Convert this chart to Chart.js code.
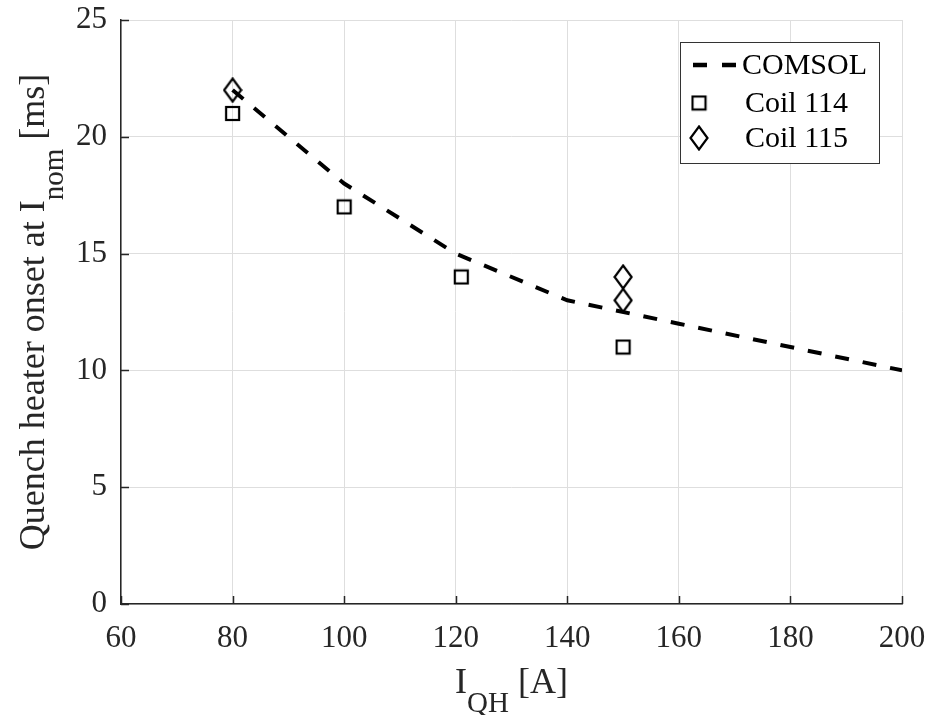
<!DOCTYPE html>
<html>
<head>
<meta charset="utf-8">
<script src="https://cdn.jsdelivr.net/npm/chart.js@4"></script>
<style>
  html, body { margin: 0; padding: 0; background: #fff; }
  #wrap { width: 940px; height: 715px; }
</style>
</head>
<body>
<div id="wrap"><canvas id="grafico" width="940" height="715"></canvas></div>
<script>
// data
const comsolX = [80, 100, 120, 140, 160, 180, 200];
const comsolY = [22, 18, 15, 13, 12, 11, 10];
const coil114X = [80, 100, 121, 150];
const coil114Y = [21, 17, 14, 11];
const coil115X = [80, 150, 150];
const coil115Y = [22, 14, 13];
const xTicks = [60, 80, 100, 120, 140, 160, 180, 200];
const yTicks = [0, 5, 10, 15, 20, 25];
const seriesNames = ['COMSOL', 'Coil 114', 'Coil 115'];

const FONT = "'Liberation Serif', 'Times New Roman', serif";
const AXIS = '#262626';

Chart.defaults.font.family = FONT;
Chart.defaults.color = AXIS;

// markers
function squareMarker() {
    const c = document.createElement('canvas');
    c.width = 17; c.height = 17;
    const g = c.getContext('2d');
    g.strokeStyle = '#000';
    g.lineWidth = 2.2;
    g.strokeRect(2, 2, 13, 13);
    return c;
}
function diamondMarker() {
    const c = document.createElement('canvas');
    c.width = 20; c.height = 26;
    const g = c.getContext('2d');
    g.strokeStyle = '#000';
    g.lineWidth = 2.2;
    g.beginPath();
    g.moveTo(10, 1.5);
    g.lineTo(18.5, 13);
    g.lineTo(10, 24.5);
    g.lineTo(1.5, 13);
    g.closePath();
    g.stroke();
    return c;
}
const sq = squareMarker();
const dm = diamondMarker();

const toPts = (xs, ys) => xs.map((x, i) => ({ x: x, y: ys[i] }));

// text with a subscript part
function subText(ctx, main, sub, tail, size, subSize, drop) {
    ctx.font = size + 'px ' + FONT;
    const w1 = ctx.measureText(main).width;
    const w3 = ctx.measureText(tail).width;
    ctx.font = subSize + 'px ' + FONT;
    const w2 = ctx.measureText(sub).width;
    const total = w1 + w2 + w3;
    let x = -total / 2;
    ctx.textAlign = 'left';
    ctx.textBaseline = 'alphabetic';
    ctx.font = size + 'px ' + FONT;
    ctx.fillText(main, x, 0);
    x += w1;
    ctx.font = subSize + 'px ' + FONT;
    ctx.fillText(sub, x, drop);
    x += w2;
    ctx.font = size + 'px ' + FONT;
    ctx.fillText(tail, x, 0);
}

const extras = {
    id: 'extras',
    afterDraw(chart) {
        const ctx = chart.ctx;
        const a = chart.chartArea;
        const xs = chart.scales.x, ys = chart.scales.y;

        // inward tick marks
        ctx.save();
        ctx.strokeStyle = AXIS;
        ctx.lineWidth = 1.5;
        ctx.beginPath();
        xTicks.forEach(v => {
            const px = Math.round(xs.getPixelForValue(v)) + 0.5;
            ctx.moveTo(px, a.bottom);
            ctx.lineTo(px, a.bottom - 8);
        });
        yTicks.forEach(v => {
            const py = Math.round(ys.getPixelForValue(v)) + 0.5;
            ctx.moveTo(a.left, py);
            ctx.lineTo(a.left + 8, py);
        });
        ctx.stroke();
        ctx.restore();

        // axis titles
        ctx.save();
        ctx.fillStyle = AXIS;
        ctx.translate((a.left + a.right) / 2, 693);
        subText(ctx, 'I', 'QH', ' [A]', 36, 29, 19);
        ctx.restore();

        ctx.save();
        ctx.fillStyle = AXIS;
        ctx.translate(44, (a.top + a.bottom) / 2);
        ctx.rotate(-Math.PI / 2);
        subText(ctx, 'Quench heater onset at I', 'nom', ' [ms]', 36, 29, 19);
        ctx.restore();

        // legend box
        const bx = 680, by = 42, bw = 199, bh = 121;
        ctx.save();
        ctx.fillStyle = '#fff';
        ctx.fillRect(bx, by, bw, bh);
        ctx.strokeStyle = '#333';
        ctx.lineWidth = 1;
        ctx.strokeRect(bx + 0.5, by + 0.5, bw, bh);

        const rows = [65, 103, 138];
        ctx.strokeStyle = '#000';
        ctx.lineWidth = 4.5;
        ctx.setLineDash([14, 15]);
        ctx.beginPath();
        ctx.moveTo(693, rows[0]);
        ctx.lineTo(737, rows[0]);
        ctx.stroke();
        ctx.setLineDash([]);
        ctx.drawImage(sq, 699 - sq.width / 2, rows[1] - sq.height / 2);
        ctx.drawImage(dm, 699 - dm.width / 2, rows[2] - dm.height / 2);

        ctx.fillStyle = '#000';
        ctx.font = '30px ' + FONT;
        ctx.textAlign = 'left';
        ctx.textBaseline = 'middle';
        ctx.fillText(seriesNames[0], 742, rows[0] + 1);
        ctx.fillText(seriesNames[1], 745, rows[1] + 1);
        ctx.fillText(seriesNames[2], 745, rows[2] + 1);
        ctx.restore();
    }
};

new Chart(document.getElementById('grafico').getContext('2d'), {
    type: 'scatter',
    data: {
        datasets: [
            {
                label: seriesNames[0],
                data: toPts(comsolX, comsolY),
                showLine: true,
                borderColor: '#000',
                borderWidth: 4,
                borderDash: [14, 14],
                borderCapStyle: 'butt',
                pointRadius: 0,
                fill: false,
                order: 0
            },
            {
                label: seriesNames[1],
                data: toPts(coil114X, coil114Y),
                pointStyle: sq,
                pointRadius: 8,
                order: 1
            },
            {
                label: seriesNames[2],
                data: toPts(coil115X, coil115Y),
                pointStyle: dm,
                pointRadius: 10,
                order: 1
            }
        ]
    },
    options: {
        responsive: false,
        animation: false,
        devicePixelRatio: 1,
        layout: { padding: { left: 0, top: 20, right: 38, bottom: 0 } },
        plugins: {
            legend: { display: false },
            tooltip: { enabled: false }
        },
        scales: {
            x: {
                type: 'linear',
                min: 60,
                max: 200,
                afterBuildTicks: s => { s.ticks = xTicks.map(v => ({ value: v })); },
                afterFit: s => {
                    s.height = 111;
                    s.paddingLeft = 0;
                    s.paddingRight = 0;
                },
                ticks: {
                    padding: 16,
                    font: { size: 31 },
                    color: AXIS
                },
                grid: { color: '#dedede', lineWidth: 1, drawTicks: false },
                border: { display: true, color: AXIS, width: 1.5 }
            },
            y: {
                type: 'linear',
                min: 0,
                max: 25,
                afterBuildTicks: s => { s.ticks = yTicks.map(v => ({ value: v })); },
                afterFit: s => {
                    s.width = 121;
                    s.paddingTop = 0;
                    s.paddingBottom = 0;
                },
                ticks: {
                    padding: 14,
                    font: { size: 31 },
                    color: AXIS
                },
                grid: { color: '#dedede', lineWidth: 1, drawTicks: false },
                border: { display: true, color: AXIS, width: 1.5 }
            }
        }
    },
    plugins: [extras]
});
</script>
</body>
</html>
